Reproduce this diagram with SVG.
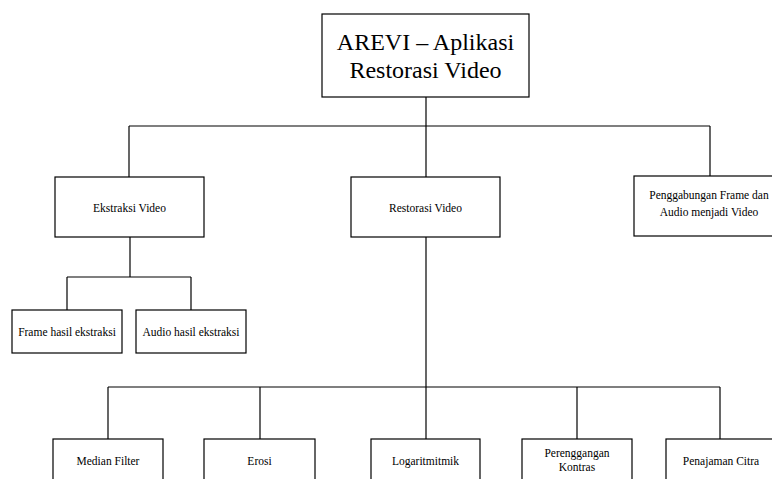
<svg xmlns="http://www.w3.org/2000/svg" width="772" height="479" viewBox="0 0 772 479">
<style>
rect{fill:#fff;stroke:#000;stroke-width:1.2}
.c line{stroke:#000;stroke-width:1.2}
text{font-family:"Liberation Serif","Times New Roman",serif;font-size:11.5px;fill:#000;text-anchor:middle}
.t{font-size:24px}
</style>
<rect x="0" y="0" width="772" height="479" style="stroke:none"/>
<g class="c" id="connectors">
<line x1="426" y1="97" x2="426" y2="126"/>
<line x1="129" y1="126" x2="710" y2="126"/>
<line x1="129" y1="126" x2="129" y2="177"/>
<line x1="426" y1="126" x2="426" y2="177"/>
<line x1="710" y1="126" x2="710" y2="176"/>
<line x1="130" y1="237" x2="130" y2="277"/>
<line x1="67" y1="277" x2="191" y2="277"/>
<line x1="67" y1="277" x2="67" y2="310"/>
<line x1="191" y1="277" x2="191" y2="310"/>
<line x1="426" y1="237" x2="426" y2="387"/>
<line x1="108" y1="387" x2="720" y2="387"/>
<line x1="108" y1="387" x2="108" y2="439"/>
<line x1="260" y1="387" x2="260" y2="439"/>
<line x1="426" y1="387" x2="426" y2="439"/>
<line x1="577" y1="387" x2="577" y2="439"/>
<line x1="720" y1="387" x2="720" y2="439"/>
</g>
<g id="root"><rect x="322" y="14" width="207" height="83"/><text class="t" x="425.5" y="50">AREVI – Aplikasi</text><text class="t" x="425.5" y="78">Restorasi Video</text></g>
<g id="ekstraksi"><rect x="55" y="177" width="149" height="60"/><text x="129.5" y="212">Ekstraksi Video</text></g>
<g id="restorasi"><rect x="351" y="177" width="149" height="60"/><text x="425.5" y="212">Restorasi Video</text></g>
<g id="penggabungan"><rect x="634" y="176" width="152" height="60"/><text x="709" y="199">Penggabungan Frame dan</text><text x="709" y="216">Audio menjadi Video</text></g>
<g id="frame"><rect x="12" y="310" width="110" height="43"/><text x="67" y="336">Frame hasil ekstraksi</text></g>
<g id="audio"><rect x="136" y="310" width="110" height="43"/><text x="191" y="336">Audio hasil ekstraksi</text></g>
<g id="median"><rect x="53" y="439" width="110" height="50"/><text x="108" y="465">Median Filter</text></g>
<g id="erosi"><rect x="204" y="439" width="111" height="50"/><text x="259.5" y="465">Erosi</text></g>
<g id="logaritmik"><rect x="371" y="439" width="109" height="50"/><text x="425.5" y="465">Logaritmitmik</text></g>
<g id="perenggangan"><rect x="522" y="439" width="110" height="50"/><text x="577" y="457">Perenggangan</text><text x="577" y="471">Kontras</text></g>
<g id="penajaman"><rect x="666" y="439" width="110" height="50"/><text x="721" y="465">Penajaman Citra</text></g>
</svg>
